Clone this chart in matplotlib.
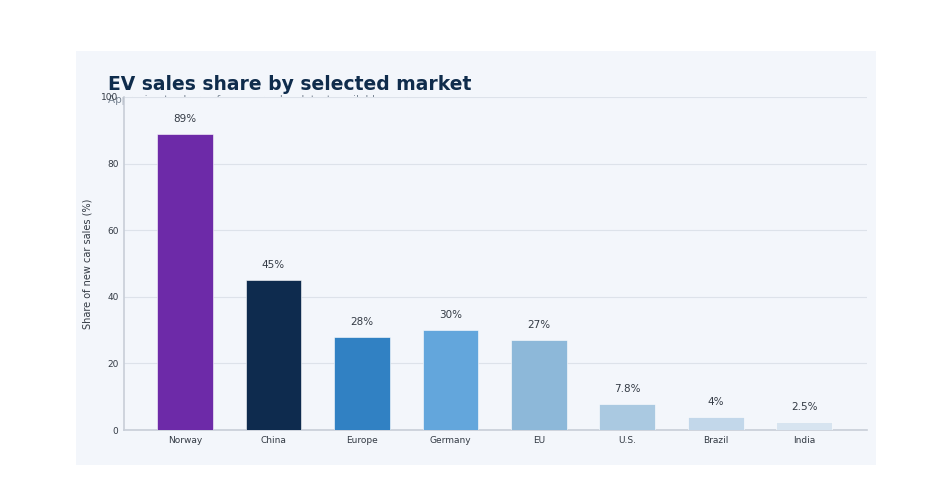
import matplotlib.pyplot as plt
from matplotlib.patches import Rectangle

markets = ['Norway', 'China', 'Europe', 'Germany', 'EU', 'U.S.', 'Brazil', 'India']
shares = [89, 45, 28, 30, 27, 7.8, 4, 2.5]
share_labels = ['89%', '45%', '28%', '30%', '27%', '7.8%', '4%', '2.5%']
bar_colors = ['#6d2aa8', '#0e2b4e', '#3181c3', '#63a6dc', '#8db8d9',
              '#aac9e1', '#c2d7ea', '#d7e4f0']
y_ticks = [0, 20, 40, 60, 80, 100]

W, H = 948, 504
fig = plt.figure(figsize=(W / 100, H / 100), dpi=100)
fig.patch.set_facecolor('white')

panel_bg = '#f3f6fb'
# light panel behind everything
fig.patches.append(Rectangle((76 / W, 1 - 465 / H), 800 / W, 414 / H,
                             transform=fig.transFigure, facecolor=panel_bg,
                             edgecolor='none', zorder=-10))

fig.text(108 / W, 1 - 84 / H, 'EV sales share by selected market',
         fontsize=13.5, fontweight='bold', color='#0f2c4c', va='center')
# subtitle ends up hidden under the plot area, as in the original
fig.text(108 / W, 1 - 95 / H, 'Approximate share of new car sales, latest available year',
         fontsize=7.5, color='#7a8694', va='top', zorder=-5)

ax = fig.add_axes([124 / W, 1 - 430 / H, 743 / W, 333 / H])
ax.set_facecolor(panel_bg)

x = range(len(markets))
ax.bar(x, shares, width=0.63, color=bar_colors, edgecolor='#ffffff',
       linewidth=0.4, zorder=3)
for i, (v, lab) in enumerate(zip(shares, share_labels)):
    ax.text(i, v + 3, lab, ha='center', va='bottom', fontsize=7.5, color='#333a44')

ax.set_xlim(-0.69, 7.71)
ax.set_ylim(0, 100)
ax.set_xticks(list(x))
ax.set_xticklabels(markets)
ax.set_yticks(y_ticks)
ax.tick_params(axis='both', labelsize=6.5, colors='#333a44', length=0, pad=4)
ax.grid(axis='y', color='#dde2ea', linewidth=0.8, zorder=0)
ax.set_ylabel('Share of new car sales (%)', fontsize=7, color='#333a44', labelpad=6)

for side in ['top', 'right']:
    ax.spines[side].set_visible(False)
for side in ['left', 'bottom']:
    ax.spines[side].set_color('#c8ced8')
    ax.spines[side].set_linewidth(1.2)

fig.savefig('out.png', dpi=100, facecolor=fig.get_facecolor())
